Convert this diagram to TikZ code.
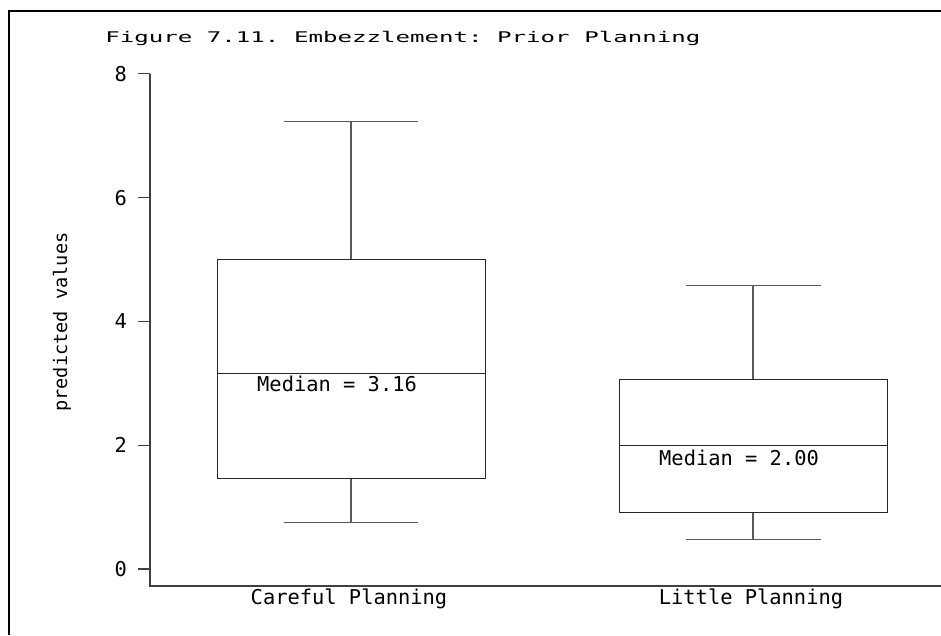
\documentclass[tikz,border=0pt]{standalone}
\usepackage{fontspec}
\setmonofont{DejaVu Sans Mono}
\usetikzlibrary{positioning}

\begin{document}
\begin{tikzpicture}[x=1pt, y=-1pt, every node/.style={inner sep=0pt},
  small/.style={font=\ttfamily\fontsize{14.7}{17}\selectfont, xscale=1.64},
  big/.style={font=\ttfamily\fontsize{20.4}{24}\selectfont},
  label/.style={font=\ttfamily\fontsize{18.6}{22}\selectfont},
  frame/.style={draw=black, line width=2pt},
  axis/.style={draw=black!75, line width=1.3pt},
  whisker/.style={draw=black!65, line width=1.1pt},
  boxline/.style={draw=black!85, line width=0.9pt}
]
\useasboundingbox (0,0) rectangle (941,635);

% Frame and title
\draw[frame] (941,11) -- (9,11) -- (9,635);
\node[small, anchor=base west] (title) at (105,42) {Figure 7.11. Embezzlement: Prior Planning};

% Axes
\draw[axis] (150,74) -- (150,586) -- (941,586);
\node[label, rotate=90] (ylab) at (62,322) {predicted values};

\begin{scope}[shift={(0,569)}, y=61.9pt]
  % Ticks
  \foreach \v in {0,2,...,8} {
    \draw[axis] (150,\v) -- (138,\v);
    \node[big, anchor=east] (tick\v) at (127,\v) {\v};
  }

  % Careful Planning
  \draw[whisker] (284,7.23) -- (418,7.23) (351,7.23) -- (351,5.00);
  \draw[whisker] (351,1.46) -- (351,0.75) (284,0.75) -- (418,0.75);
  \draw[boxline] (217,1.46) rectangle (485,5.00);
  \draw[boxline] (217,3.16) -- (485,3.16);
  \node[big, anchor=base west] (med1) at (257,2.87) {Median = 3.16};

  % Little Planning
  \draw[whisker] (686,4.58) -- (821,4.58) (753,4.58) -- (753,3.07);
  \draw[whisker] (753,0.92) -- (753,0.48) (686,0.48) -- (821,0.48);
  \draw[boxline] (619,0.92) rectangle (887,3.07);
  \draw[boxline] (619,2.00) -- (887,2.00);
  \node[big, anchor=base west] (med2) at (659,1.68) {Median = 2.00};
\end{scope}

% Group labels
\node[big, anchor=base] (grp1) at (349,604) {Careful Planning};
\node[big, anchor=base] (grp2) at (751,604) {Little Planning};

\end{tikzpicture}
\end{document}
